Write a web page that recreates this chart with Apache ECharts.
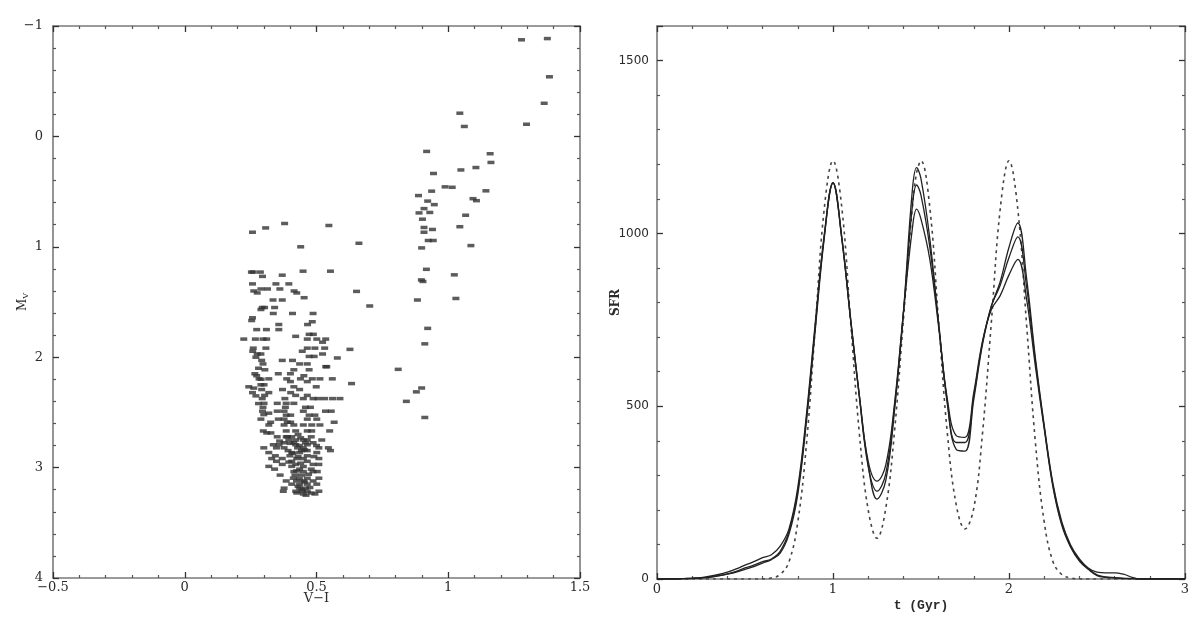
<!DOCTYPE html>
<html>
<head>
<meta charset="utf-8">
<script src="https://cdn.jsdelivr.net/npm/echarts@6/dist/echarts.min.js"></script>
<style>html,body{margin:0;padding:0;background:#fff}#c{width:1200px;height:618px}</style>
</head>
<body>
<div id="c"></div>
<script>
// ---- Left panel: colour-magnitude diagram (V-I, M_V) ----
const giantStars = [
  [1.278,-0.875],[1.376,-0.886],[1.384,-0.54],[1.364,-0.30],[1.297,-0.11],
  [1.044,-0.21],[1.061,-0.09],[0.918,0.136],[1.159,0.157],[1.162,0.236],
  [0.944,0.336],[1.105,0.282],[1.048,0.304],[0.988,0.457],[1.015,0.461],
  [0.937,0.496],[1.143,0.493],[0.887,0.536],[0.922,0.586],[0.947,0.618],
  [1.094,0.564],[1.107,0.582],[0.908,0.654],[0.889,0.693],[0.930,0.689],
  [1.066,0.714],[0.902,0.75],[0.908,0.825],[0.940,0.843],[1.044,0.818],
  [0.908,0.868],[0.924,0.943],[0.943,0.943],[1.086,0.989],[0.899,1.01],
  [0.917,1.204],[1.023,1.254],[0.898,1.30],[0.904,1.314],[1.029,1.468],
  [0.883,1.482],[0.922,1.739],[0.911,1.879],[0.810,2.11],[0.899,2.279],
  [0.879,2.314],[0.841,2.40],[0.911,2.546]
];
const subgiantStars = [
  [0.257,0.868],[0.307,0.829],[0.379,0.789],[0.547,0.807],[0.661,0.968],
  [0.440,1.0],[0.449,1.221],[0.553,1.221],[0.652,1.404],[0.702,1.536],
  [0.627,1.929],[0.579,2.007],[0.633,2.239],[0.589,2.375]
];
const turnoffStars = [
  [0.253,1.229],[0.260,1.229],[0.287,1.229],[0.295,1.268],[0.370,1.257],
  [0.257,1.336],[0.346,1.336],[0.395,1.336],[0.289,1.382],[0.314,1.382],[0.361,1.382],
  [0.262,1.400],[0.415,1.400],[0.275,1.418],[0.425,1.418],[0.453,1.461],
  [0.335,1.482],[0.370,1.482],[0.294,1.550],[0.303,1.550],[0.341,1.550],[0.289,1.568],
  [0.336,1.604],[0.409,1.604],[0.487,1.604],[0.257,1.643],[0.254,1.668],
  [0.357,1.704],[0.466,1.704],[0.484,1.679],[0.273,1.750],[0.310,1.750],[0.357,1.750],
  [0.472,1.793],[0.488,1.793],[0.421,1.811],
  [0.224,1.836],[0.268,1.836],[0.297,1.836],[0.311,1.836],[0.465,1.836],[0.501,1.836],[0.535,1.836],
  [0.523,1.864],[0.260,1.918],[0.308,1.918],[0.465,1.918],[0.494,1.918],[0.531,1.918],
  [0.258,1.946],[0.446,1.946],[0.275,1.971],[0.289,1.971],[0.523,1.971],
  [0.472,1.993],[0.491,1.993],[0.292,2.029],[0.370,2.029],[0.409,2.029],
  [0.297,2.061],[0.436,2.061],[0.465,2.061],[0.535,2.086],[0.539,2.086],
  [0.304,2.114],[0.414,2.114],[0.472,2.114],[0.266,2.150],[0.355,2.150],[0.401,2.150],
  [0.273,2.168],[0.452,2.168],
  [0.282,2.196],[0.319,2.196],[0.387,2.196],[0.439,2.196],[0.484,2.196],[0.513,2.196],[0.560,2.196],
  [0.401,2.221],[0.465,2.221],[0.289,2.250],[0.301,2.250],
  [0.243,2.268],[0.414,2.268],[0.499,2.268],[0.292,2.293],[0.371,2.293],[0.436,2.293],
  [0.257,2.321],[0.319,2.321],[0.402,2.321],[0.303,2.346],[0.421,2.346],[0.465,2.346],
  [0.294,2.375],[0.380,2.375],[0.450,2.375],[0.487,2.375],[0.506,2.375],[0.531,2.375],[0.561,2.375],
  [0.301,2.418],[0.351,2.418],[0.385,2.418],[0.414,2.418],
  [0.297,2.454],[0.382,2.454],[0.458,2.454],[0.477,2.454],
  [0.295,2.489],[0.351,2.489],[0.377,2.489],[0.450,2.489],[0.534,2.489],[0.556,2.489],
  [0.319,2.507],[0.385,2.525],[0.402,2.525],[0.472,2.525],[0.494,2.525],
  [0.289,2.561],[0.355,2.561],[0.377,2.561],[0.465,2.561],[0.501,2.561],
  [0.326,2.589],[0.389,2.589],[0.402,2.589],[0.567,2.589],
  [0.319,2.614],[0.377,2.614],[0.414,2.614],[0.450,2.614],[0.482,2.614],[0.513,2.614],
  [0.298,2.668],[0.385,2.668],[0.421,2.668],[0.465,2.668],[0.482,2.668],[0.550,2.668],
  [0.311,2.686],[0.327,2.686],
  [0.351,2.721],[0.385,2.721],[0.406,2.721],[0.480,2.721],
  [0.395,2.750],[0.421,2.750],[0.450,2.750],[0.465,2.750],
  [0.377,2.775],[0.414,2.775],[0.458,2.775],[0.487,2.775],
  [0.336,2.793],[0.358,2.793],[0.421,2.793],[0.465,2.793],
  [0.300,2.821],[0.348,2.821],[0.377,2.821],[0.428,2.821],[0.450,2.821],[0.509,2.821],[0.545,2.821],
  [0.392,2.846],[0.443,2.846],[0.465,2.846],[0.553,2.846],
  [0.319,2.864],[0.406,2.864],[0.436,2.864],[0.501,2.864],
  [0.344,2.893],[0.399,2.893],[0.465,2.893],
  [0.330,2.918],[0.370,2.918],[0.425,2.918],[0.450,2.918],[0.509,2.918],
  [0.348,2.943],[0.406,2.943],[0.465,2.943],
  [0.370,2.971],[0.421,2.971],[0.487,2.971],[0.509,2.971],
  [0.319,2.989],[0.406,2.989],[0.341,3.014],[0.436,3.014],[0.480,3.014],
  [0.414,3.036],[0.450,3.036],[0.487,3.036],[0.503,3.036],
  [0.362,3.068],[0.418,3.068],[0.443,3.068],
  [0.412,3.096],[0.465,3.096],[0.509,3.096],
  [0.385,3.121],[0.424,3.121],[0.450,3.121],[0.487,3.121],
  [0.406,3.150],[0.436,3.150],[0.465,3.150],[0.501,3.150],
  [0.377,3.186],[0.436,3.186],[0.458,3.186],
  [0.374,3.214],[0.421,3.214],[0.446,3.214],[0.465,3.214],[0.509,3.214],
  [0.450,3.239],[0.494,3.239],
  [0.430,2.700],[0.440,2.730],[0.400,2.780],[0.435,2.800],[0.455,2.840],[0.410,2.870],
  [0.430,2.900],[0.395,2.950],[0.440,2.960],[0.450,2.990],[0.425,3.030],[0.470,3.060],
  [0.435,3.100],[0.455,3.130],[0.430,3.170],[0.475,3.180],[0.445,3.200],[0.480,3.230],
  [0.460,3.250],[0.425,3.230],[0.390,2.720],[0.360,2.760],[0.500,2.800],[0.520,2.750],
  [0.490,2.900],[0.270,2.000],[0.280,2.100],[0.290,2.200],[0.270,2.350],[0.280,2.420],
  [0.300,2.520],[0.262,2.280]
];

// ---- Right panel: star formation rate vs time ----
const tGyr = [0.00,0.05,0.10,0.15,0.20,0.25,0.30,0.35,0.40,0.45,0.50,0.55,0.60,0.65,0.70,0.75,0.80,0.85,0.90,0.95,
  1.00,1.05,1.10,1.15,1.20,1.25,1.30,1.35,1.40,1.45,1.475,1.50,1.55,1.60,1.65,1.70,1.75,1.80,1.85,1.90,1.95,
  2.00,2.05,2.10,2.15,2.20,2.25,2.30,2.35,2.40,2.45,2.50,2.55,2.60,2.65,2.70,2.75,2.80,2.85,2.90,2.95,3.00];
const sfrInput = [0,0,0,0,0,0,0,0,0,0,0,0,0,3,13,50,165,395,735,1070,
  1210,1075,745,420,200,118,205,430,750,1070,1175,1210,1075,745,420,215,145,205,425,745,1070,
  1210,1070,735,395,165,50,13,3,0,0,0,0,0,0,0,0,0,0,0,0,0];
const sfrRecA = [0,0,0,1,2,4,8,13,20,29,40,50,62,70,95,145,265,480,745,995,
  1147,990,755,530,330,231,285,490,770,1120,1190,1158,985,740,505,375,370,520,680,790,860,
  960,1030,870,640,445,275,165,98,58,32,20,18,18,14,5,0,0,0,0,0,0];
const sfrRecB = [0,0,0,1,2,3,6,10,15,22,32,40,50,58,80,138,255,470,735,990,
  1147,985,750,525,325,254,305,500,770,1075,1140,1110,960,740,510,395,395,530,685,790,850,
  930,990,845,630,440,270,160,95,55,30,12,6,4,2,1,0,0,0,0,0,0];
const sfrRecC = [0,0,0,1,2,3,5,9,14,20,28,36,46,56,75,130,245,460,725,985,
  1145,985,750,530,340,283,330,510,770,1010,1070,1041,925,730,520,415,410,540,690,780,820,
  880,925,810,615,435,265,155,92,52,28,10,5,3,2,1,0,0,0,0,0,0];

const xTicksLeft = [-0.5, 1.5, 0.5];   // min, max, interval
const yTicksLeft = [-1, 4, 1];
const xTicksRight = [0, 3, 1];
const yTicksRight = [0, 1600, 500];

const chart = echarts.init(document.getElementById('c'), null, {renderer: 'canvas'});
const axisCol = '#7a7a7a';
const textCol = '#2a2a2a';
const serif = 'DejaVu Serif';
const minus = v => String(v).replace('-', '\u2212');

function baseAxis(extra) {
  return Object.assign({
    type: 'value',
    nameMoveOverlap: false,
    axisLine: {show: true, onZero: false, lineStyle: {color: axisCol, width: 1.6}},
    axisTick: {show: true, inside: true, length: 6, lineStyle: {color: '#333', width: 1.3}},
    minorTick: {show: true, splitNumber: 5, length: 3, lineStyle: {color: '#555', width: 1.2}},
    splitLine: {show: false},
    axisLabel: {show: true, color: textCol, fontFamily: serif, fontSize: 13, formatter: minus}
  }, extra);
}
function mirror(a, pos) {
  const m = JSON.parse(JSON.stringify(a));
  m.position = pos; m.axisLabel = {show: false}; m.name = '';
  return m;
}

const xL = baseAxis({gridIndex: 0, min: xTicksLeft[0], max: xTicksLeft[1], interval: xTicksLeft[2], position: 'bottom',
  name: 'V\u2212I', nameLocation: 'middle', nameGap: 14,
  nameTextStyle: {color: textCol, fontFamily: serif, fontSize: 13}});
xL.axisLabel.margin = 3;
const yL = baseAxis({gridIndex: 0, min: yTicksLeft[0], max: yTicksLeft[1], interval: yTicksLeft[2], inverse: true, position: 'left',
  name: '{m|M}{s|V}', nameLocation: 'middle', nameGap: 23, nameRotate: 90,
  nameTextStyle: {rich: {m: {fontFamily: serif, fontSize: 12, color: textCol}, s: {fontFamily: serif, fontSize: 8, color: textCol, padding: [6, 0, 0, 0]}}}});
yL.axisLabel.margin = 10;
const xR = baseAxis({gridIndex: 1, min: xTicksRight[0], max: xTicksRight[1], interval: xTicksRight[2], position: 'bottom',
  name: 't (Gyr)', nameLocation: 'middle', nameGap: 20,
  nameTextStyle: {color: textCol, fontFamily: 'Liberation Mono', fontSize: 13, fontWeight: 'bold'}});
xR.axisLabel.margin = 4;
const yR = baseAxis({gridIndex: 1, min: yTicksRight[0], max: yTicksRight[1], interval: yTicksRight[2], position: 'left',
  name: 'SFR', nameLocation: 'middle', nameGap: 35, nameRotate: 90,
  nameTextStyle: {color: textCol, fontFamily: serif, fontSize: 12, fontWeight: 'bold'}});
yR.axisLabel.margin = 8;
yR.axisLabel.showMaxLabel = false;
yR.axisLabel.fontFamily = 'DejaVu Sans';
yR.axisLabel.fontSize = 12;

const scatterStyle = {symbol: 'rect', symbolSize: [7, 3.5], itemStyle: {color: '#333'}};
const zip = arr => tGyr.map((t, i) => [t, arr[i]]);

chart.setOption({
  animation: false,
  backgroundColor: '#fff',
  grid: [
    {left: 53, right: 620, top: 26, bottom: 40},
    {left: 657, right: 15, top: 26, bottom: 39}
  ],
  xAxis: [xL, mirror(xL, 'top'), xR, mirror(xR, 'top')],
  yAxis: [yL, mirror(yL, 'right'), yR, mirror(yR, 'right')],
  series: [
    Object.assign({type: 'scatter', xAxisIndex: 0, yAxisIndex: 0, data: giantStars}, scatterStyle),
    Object.assign({type: 'scatter', xAxisIndex: 0, yAxisIndex: 0, data: subgiantStars}, scatterStyle),
    Object.assign({type: 'scatter', xAxisIndex: 0, yAxisIndex: 0, data: turnoffStars}, scatterStyle),
    {type: 'line', xAxisIndex: 2, yAxisIndex: 2, data: zip(sfrInput), smooth: 0.4, showSymbol: false,
      lineStyle: {color: '#444', width: 1.6, type: [3, 4]}},
    {type: 'line', xAxisIndex: 2, yAxisIndex: 2, data: zip(sfrRecA), smooth: 0.4, showSymbol: false,
      lineStyle: {color: '#222', width: 1.3}},
    {type: 'line', xAxisIndex: 2, yAxisIndex: 2, data: zip(sfrRecB), smooth: 0.4, showSymbol: false,
      lineStyle: {color: '#222', width: 1.3}},
    {type: 'line', xAxisIndex: 2, yAxisIndex: 2, data: zip(sfrRecC), smooth: 0.4, showSymbol: false,
      lineStyle: {color: '#222', width: 1.3}}
  ]
});
</script>
</body>
</html>
